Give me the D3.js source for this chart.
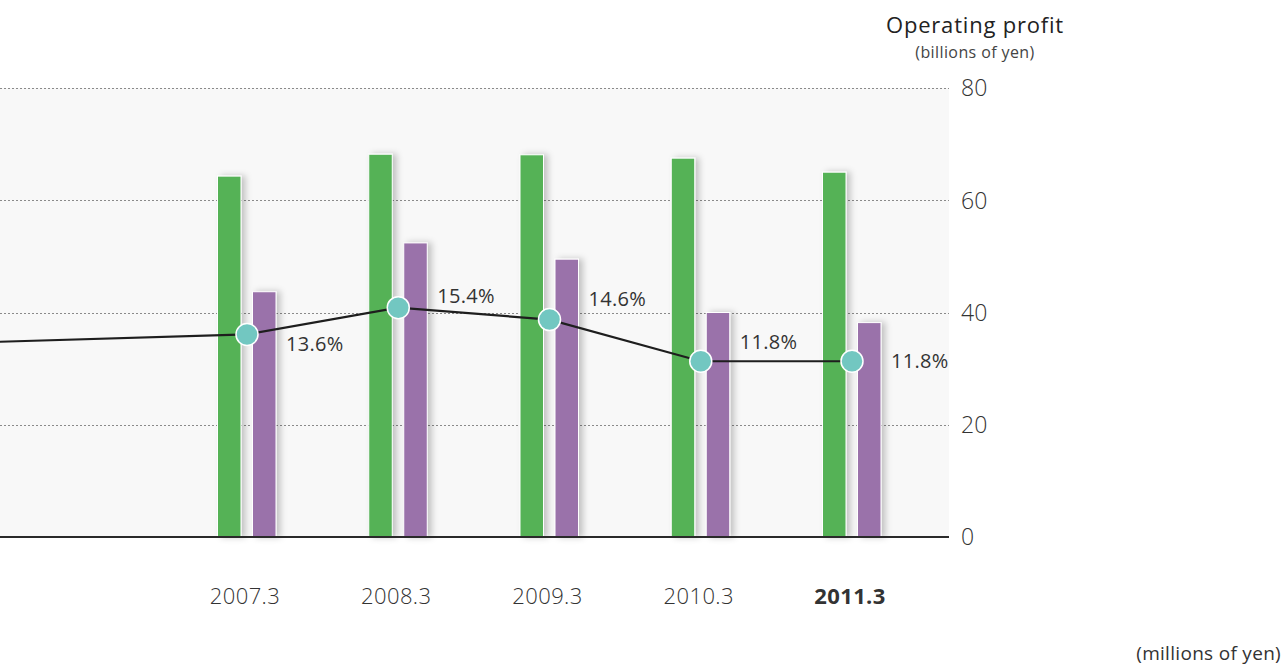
<!DOCTYPE html>
<html>
<head>
<meta charset="utf-8">
<script src="https://cdn.jsdelivr.net/npm/d3@7"></script>
<style>
  body { margin: 0; background: #fff; }
  svg { display: block; font-family: "Open Sans", "Noto Sans", sans-serif; }
</style>
</head>
<body>
<svg id="chart" width="1285" height="666"></svg>
<script>
// fiscal years shown
const years = ['2007.3', '2008.3', '2009.3', '2010.3', '2011.3']
// green bars / purple bars (left axis scale, 0-80)
const greenValues = [64.3, 68.2, 68.1, 67.5, 65.0]
const purpleValues = [43.7, 52.4, 49.5, 40.0, 38.2]
// ratio line (%)
const ratioValues = [13.6, 15.4, 14.6, 11.8, 11.8]
// line continues from an earlier year that lies outside the view
const leadRatio = { index: -2, value: 13.0 }
const yTicks = [0, 20, 40, 60, 80]

// label placement, px from the marker
const labelDy = [9, -12, -21, -19, 0]

const svg = d3.select('#chart')
const W = 1285

const plot = { left: 0, right: 949, top: 88, bottom: 537 }

const x = d3.scaleLinear().domain([0, years.length - 1]).range([247, 852])
const y = d3.scaleLinear().domain([0, 80]).range([plot.bottom, plot.top])
const yRatio = d3.scaleLinear().domain([0, 30.15]).range([plot.bottom, plot.top])

const defs = svg.append('defs')
defs.append('filter')
  .attr('id', 'barShadow')
  .attr('x', '-20%').attr('width', '180%')
  .append('feDropShadow')
  .attr('dx', 4).attr('dy', 0)
  .attr('stdDeviation', 3)
  .attr('flood-color', '#000')
  .attr('flood-opacity', 0.22)

// plot background
svg.append('rect')
  .attr('x', plot.left).attr('y', plot.top)
  .attr('width', plot.right - plot.left)
  .attr('height', plot.bottom - plot.top)
  .attr('fill', '#f8f8f8')

// gridlines
svg.append('g')
  .selectAll('line')
  .data(yTicks.filter(d => d > 0))
  .join('line')
  .attr('x1', plot.left).attr('x2', plot.right)
  .attr('y1', d => Math.round(y(d)) + 0.5)
  .attr('y2', d => Math.round(y(d)) + 0.5)
  .attr('stroke', '#8a8a8a')
  .attr('stroke-width', 1)
  .attr('stroke-dasharray', '2,2')

// right axis labels
svg.append('g')
  .selectAll('text')
  .data(yTicks)
  .join('text')
  .attr('x', 961)
  .attr('y', d => y(d))
  .attr('dy', '0.36em')
  .attr('font-size', 23)
  .attr('font-weight', 300)
  .attr('fill', '#333')
  .text(d => d)

svg.append('text')
  .attr('x', 975).attr('y', 33)
  .attr('text-anchor', 'middle')
  .attr('font-size', 22)
  .attr('letter-spacing', 0.8)
  .attr('fill', '#222')
  .text('Operating profit')

svg.append('text')
  .attr('x', 975).attr('y', 58)
  .attr('text-anchor', 'middle')
  .attr('font-size', 16)
  .attr('letter-spacing', 0.4)
  .attr('fill', '#444')
  .text('(billions of yen)')

// bars
const barW = 23.5
const bars = svg.append('g').attr('filter', 'url(#barShadow)')

bars.selectAll('.green')
  .data(greenValues)
  .join('rect')
  .attr('class', 'green')
  .attr('x', (d, i) => x(i) - 29.5)
  .attr('y', d => y(d))
  .attr('width', barW)
  .attr('height', d => y(0) - y(d))
  .attr('fill', '#55b257')
  .attr('stroke', '#fff')
  .attr('stroke-width', 1)

bars.selectAll('.purple')
  .data(purpleValues)
  .join('rect')
  .attr('class', 'purple')
  .attr('x', (d, i) => x(i) + 5.5)
  .attr('y', d => y(d))
  .attr('width', barW)
  .attr('height', d => y(0) - y(d))
  .attr('fill', '#9a72aa')
  .attr('stroke', '#fff')
  .attr('stroke-width', 1)

// baseline
svg.append('line')
  .attr('x1', plot.left).attr('x2', plot.right)
  .attr('y1', plot.bottom).attr('y2', plot.bottom)
  .attr('stroke', '#2a2a2a')
  .attr('stroke-width', 2)

// ratio line
const linePts = [[leadRatio.index, leadRatio.value]].concat(ratioValues.map((v, i) => [i, v]))
svg.append('path')
  .datum(linePts)
  .attr('d', d3.line().x(d => x(d[0])).y(d => yRatio(d[1])))
  .attr('fill', 'none')
  .attr('stroke', '#1e1e1e')
  .attr('stroke-width', 2.2)

svg.append('g')
  .selectAll('circle')
  .data(ratioValues)
  .join('circle')
  .attr('cx', (d, i) => x(i))
  .attr('cy', d => yRatio(d))
  .attr('r', 11)
  .attr('fill', '#72c7c1')
  .attr('stroke', '#fff')
  .attr('stroke-width', 1.5)

svg.append('g')
  .selectAll('text')
  .data(ratioValues)
  .join('text')
  .attr('x', (d, i) => x(i) + 39)
  .attr('y', (d, i) => yRatio(d) + labelDy[i])
  .attr('dy', '0.36em')
  .attr('font-size', 20)
  .attr('font-weight', 500)
  .attr('letter-spacing', 0.3)
  .attr('fill', '#333')
  .text(d => d.toFixed(1) + '%')

// year labels
svg.append('g')
  .selectAll('text')
  .data(years)
  .join('text')
  .attr('x', (d, i) => x(i) - 2)
  .attr('y', 604)
  .attr('text-anchor', 'middle')
  .attr('font-size', 22)
  .attr('letter-spacing', 0.4)
  .attr('font-weight', (d, i) => i === years.length - 1 ? 700 : 300)
  .attr('fill', '#333')
  .text(d => d)

svg.append('text')
  .attr('x', W - 4).attr('y', 660)
  .attr('text-anchor', 'end')
  .attr('font-size', 19)
  .attr('letter-spacing', 0.3)
  .attr('fill', '#333')
  .text('(millions of yen)')
</script>
</body>
</html>
